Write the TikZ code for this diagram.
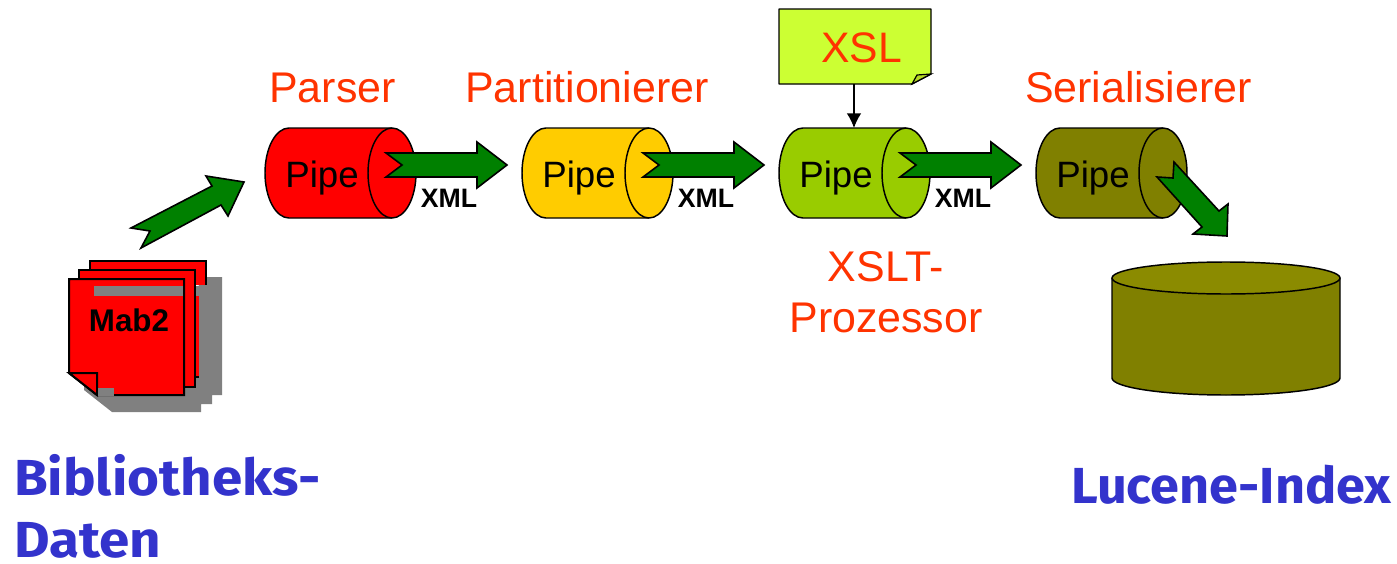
\documentclass[tikz,border=0pt]{standalone}
\usepackage{fontspec}
\setmainfont{Liberation Sans}
\newfontfamily\comicfont{Fira Sans}[BoldFont={Fira Sans Bold},BoldFeatures={FakeStretch=1.08}]
\newfontfamily\comicfontb{Fira Sans}[BoldFont={Fira Sans Bold},BoldFeatures={FakeStretch=1.03}]
\usetikzlibrary{arrows.meta}
\definecolor{labelred}{HTML}{FF3300}
\definecolor{bluetxt}{HTML}{3333CC}
\definecolor{flowgreen}{HTML}{008000}
\definecolor{olive}{HTML}{808000}
\definecolor{olivetop}{HTML}{8B8B00}
\definecolor{pipeyellow}{HTML}{FFCC00}
\definecolor{pipegreen}{HTML}{99CC00}
\definecolor{notegreen}{HTML}{CCFF33}
\tikzset{
  outline/.style={draw=black,line width=1.1pt,line join=round},
  blockarrow/.style={fill=flowgreen,draw=black,line width=1.2pt,line join=miter},
  page/.style={fill=red,draw=black,line width=1.5pt,line join=miter},
  every node/.style={inner sep=0pt,outer sep=0pt,anchor=base},
  steplabel/.style={text=labelred,font=\fontsize{32.2}{34}\selectfont},
  pipetext/.style={text=black,font=\fontsize{27.5}{30}\selectfont},
  xmltext/.style={text=black,font=\bfseries\fontsize{20}{22}\selectfont},
  bluelabel/.style={text=bluetxt,font=\comicfont\bfseries\fontsize{38}{40}\selectfont,anchor=base west},
  bluelabelb/.style={text=bluetxt,font=\comicfontb\bfseries\fontsize{38}{40}\selectfont,anchor=base west},
}
\newcommand{\pipeat}[3]{% left x, colour, name
  \path[fill=#2,outline] (#1+24,128) arc[start angle=90,end angle=270,x radius=18pt,y radius=33.75pt]
     -- (#1+127,218) arc[start angle=-90,end angle=90,x radius=18pt,y radius=33.75pt] -- cycle;
  \draw[outline] (#1+127,128) arc[start angle=90,end angle=270,x radius=18pt,y radius=33.75pt];
  \node[pipetext] (#3) at (#1+57,187) {Pipe};
}
\newcommand{\xmlarrow}[2]{% x offset, label name
  \draw[blockarrow] (386+#1,153) -- (402+#1,165) -- (386+#1,177) -- (477+#1,177) -- (477+#1,188)
     -- (507+#1,165) -- (477+#1,142) -- (477+#1,153) -- cycle;
  \node[xmltext] (#2) at (449+#1,207) {XML};
}
\begin{document}
\begin{tikzpicture}[x=0.75pt,y=-0.75pt]
\useasboundingbox (0,0) rectangle (1397,564);
% document stack shadow
\fill[gray] (206,277) -- (222,277) -- (222,395) -- (212,395) -- (212,404) -- (201,404) -- (201,412)
   -- (112,412) -- (84,390) -- (84,380) -- (195,290) -- cycle;
% pages
\draw[page] (90,285) -- (90,261) -- (206,261) -- (206,285);
\fill[red] (91,262) rectangle (205,285);
\fill[gray] (184,286) rectangle (199,296);
\fill[red] (195,296) rectangle (199,377);
\draw[black,line width=1.5pt] (199,377) -- (195,377);
\draw[page] (79,279) -- (79,270) -- (195,270) -- (195,387) -- (184,387);
% front page
\path[page] (69,373) -- (69,279) -- (184,279) -- (184,395) -- (97,395) -- cycle;
\draw[page,fill=red] (69,373) -- (97,373) -- (97,395) -- cycle;
\fill[gray] (94,286) rectangle (183.2,296);
\fill[gray] (98,388) rectangle (114,396.2);
\node[text=black,font=\bfseries\fontsize{23.5}{26}\selectfont] (mab) at (129,331) {Mab2};
% source arrow
\draw[blockarrow] (131,228) -- (150,231) -- (141,248) -- (221,205) -- (228,216) -- (244,182) -- (206,176) -- (212,186) -- cycle;
% pipes and arrows
\pipeat{265}{red}{pipeA}
\pipeat{522}{pipeyellow}{pipeB}
\pipeat{779}{pipegreen}{pipeC}
\pipeat{1036}{olive}{pipeD}
\xmlarrow{0}{xmlA}
\xmlarrow{257}{xmlB}
\xmlarrow{514}{xmlC}
\draw[blockarrow] (1157,177) -- (1173,178) -- (1174,162) -- (1219,211) -- (1228,204) -- (1227,236) -- (1193,234) -- (1202,227) -- cycle;
% XSL note
\path[fill=notegreen,outline] (779,9) -- (931,9) -- (931,74) -- (912,84) -- (779,84) -- cycle;
\path[fill=notegreen!70!olive,draw=black,line width=0.9pt] (912,84) -- (917,75) -- (931,74) -- cycle;
\node[text=labelred,font=\fontsize{32}{34}\selectfont] (xsl) at (861.5,62) {XSL};
\coordinate (xslfoot) at (854,84);
\coordinate (pipeCtop) at (854,128);
\draw[line width=1.1pt,-{Latex[length=11pt,width=11pt]}] (xslfoot) -- (pipeCtop);
% step labels
\node[steplabel] (parser) at (332.5,102) {Parser};
\node[steplabel] (part) at (587,102) {Partitionierer};
\node[steplabel] (seri) at (1138.5,102) {Serialisierer};
\node[steplabel] (xslta) at (886,281) {XSLT-};
\node[steplabel] (xsltb) at (886,332) {Prozessor};
% database
\path[fill=olive,outline] (1112,278) -- (1112,378) arc[start angle=180,end angle=360,x radius=85.5pt,y radius=12.75pt] -- (1340,278) -- cycle;
\path[fill=olivetop,outline] (1226,278) ellipse[x radius=85.5pt,y radius=12pt];
% big labels
\node[bluelabel] (bib) at (14,495) {Bibliotheks-};
\node[bluelabel] (dat) at (14,557) {Daten};
\node[bluelabelb] (luc) at (1071,503) {Lucene-Index};
\end{tikzpicture}
\end{document}
